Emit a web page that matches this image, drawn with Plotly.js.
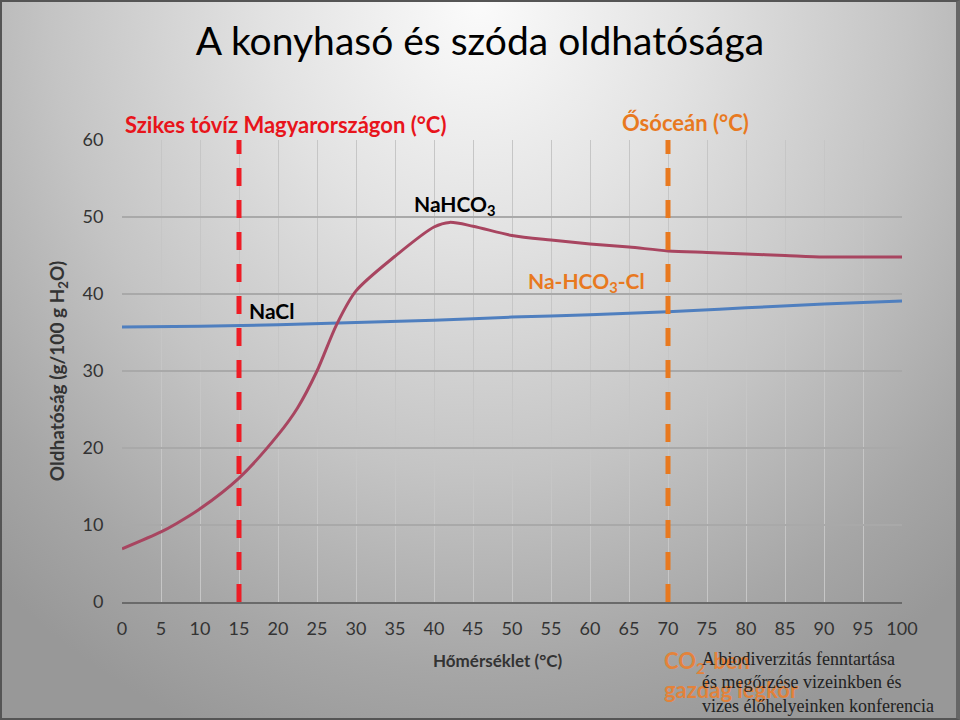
<!DOCTYPE html>
<html>
<head>
<meta charset="utf-8">
<script src="https://cdn.plot.ly/plotly-3.0.1.min.js"></script>
<style>
html,body{margin:0;padding:0;}
#wrap{width:960px;height:720px;box-sizing:border-box;border:2px solid #555;border-right:4px solid #666;
background:radial-gradient(ellipse 75% 110% at 50% 0%, #fbfbfb 0%, #e2e2e2 30%, #c4c4c4 60%, #a6a6a6 85%, #989898 100%);}
#chart{width:956px;height:716px;}
</style>
</head>
<body>
<div id="wrap"><div id="chart"></div></div>
<script>
// Temperatures (°C)
const temps = [0, 5, 7, 10, 15, 20, 22.5, 25, 27.5, 30, 35, 40, 42, 45, 50, 55, 60, 65, 70, 75, 80, 85, 90, 95, 100];
// NaHCO3 solubility (g/100 g H2O), as drawn
const nahco3 = [6.9, 9.1, 10.2, 12.1, 16.1, 21.7, 25.2, 30.0, 36.0, 40.4, 44.9, 48.7, 49.3, 48.8, 47.6, 47.0, 46.5, 46.1, 45.6, 45.4, 45.2, 45.0, 44.8, 44.8, 44.8];
// NaCl temperatures and solubility
const naclTemps = [0, 10, 20, 30, 40, 50, 60, 70, 80, 90, 100];
const nacl = [35.7, 35.8, 36.0, 36.3, 36.6, 37.0, 37.3, 37.7, 38.2, 38.7, 39.1];
// marker temperatures
const markerTemps = [15, 70];
const markerColors = ['#ee1c25', '#e8791f'];
const xTicks = [0,5,10,15,20,25,30,35,40,45,50,55,60,65,70,75,80,85,90,95,100];
const yTicks = [0,10,20,30,40,50,60];

const font = 'Lato, "Open Sans", sans-serif';

const traces = [
  {x: naclTemps, y: nacl, mode: 'lines', line: {color: '#4f7fbf', width: 3, shape: 'spline'}, hoverinfo: 'skip'},
  {x: temps, y: nahco3, mode: 'lines', line: {color: '#a84560', width: 3, shape: 'spline', smoothing: 0.8}, hoverinfo: 'skip'}
];

const shapes = markerTemps.map((t, i) => ({
  type: 'line', xref: 'x', yref: 'y', x0: t, x1: t, y0: 0, y1: 60,
  line: {color: markerColors[i], width: 5, dash: '18px,14px'}
}));

const px = p => (p - 122) / 780;
const py = p => (602 - p) / 462;

const annotations = [
  {x: px(285), y: py(125), xref: 'paper', yref: 'paper', xanchor: 'center', yanchor: 'middle',
   text: '<b>Szikes tóvíz Magyarországon (°C)</b>', showarrow: false,
   font: {family: font, size: 22, color: '#e8141b'}},
  {x: px(685), y: py(122), xref: 'paper', yref: 'paper', xanchor: 'center', yanchor: 'middle',
   text: '<b>Ősóceán (°C)</b>', showarrow: false,
   font: {family: font, size: 22, color: '#e8791f'}},
  {x: 42.7, y: 51.6, xref: 'x', yref: 'y', text: '<b>NaHCO<sub>3</sub></b>', showarrow: false,
   font: {family: font, size: 21, color: '#000'}},
  {x: 19.2, y: 37.9, xref: 'x', yref: 'y', text: '<b>NaCl</b>', showarrow: false,
   font: {family: font, size: 21, color: '#000'}},
  {x: 59.6, y: 41.6, xref: 'x', yref: 'y', text: '<b>Na-HCO<sub>3</sub>-Cl</b>', showarrow: false,
   font: {family: font, size: 21, color: '#e8791f'}},
  {x: px(498), y: py(660), xref: 'paper', yref: 'paper', xanchor: 'center', yanchor: 'middle',
   text: '<b>Hőmérséklet (°C)</b>', showarrow: false,
   font: {family: font, size: 17, color: '#333'}},
  {x: px(662), y: py(645), xref: 'paper', yref: 'paper', xanchor: 'left', yanchor: 'top', align: 'left',
   text: '<b>CO<sub>2</sub>-ben<br>gazdag légkör</b>', showarrow: false,
   font: {family: font, size: 22, color: 'rgba(240,125,40,0.85)'}},
  {x: px(700), y: py(647), xref: 'paper', yref: 'paper', xanchor: 'left', yanchor: 'top', align: 'left',
   text: 'A biodiverzitás fenntartása<br>és megőrzése vizeinkben és<br>vizes élőhelyeinken konferencia', showarrow: false,
   font: {family: '"Liberation Serif", "Times New Roman", serif', size: 18, color: '#222'}}
];

const layout = {
  width: 956, height: 716,
  margin: {l: 120, r: 56, t: 138, b: 116},
  paper_bgcolor: 'rgba(0,0,0,0)',
  plot_bgcolor: 'rgba(0,0,0,0)',
  showlegend: false,
  title: {text: 'A konyhasó és szóda oldhatósága', x: 0.5, xanchor: 'center', y: 0.945, yanchor: 'middle',
          font: {family: font, size: 39, color: '#000'}},
  xaxis: {range: [0, 100], tickvals: xTicks, ticktext: xTicks.map(String), showgrid: true,
          gridcolor: '#c6c6c6', gridwidth: 1, zeroline: false, showline: true, linecolor: '#6a6a6a', linewidth: 1.5,
          ticks: 'outside', ticklen: 10, tickcolor: 'rgba(0,0,0,0)',
          tickfont: {family: font, size: 18, color: '#333'}},
  yaxis: {range: [0, 60], tickvals: yTicks, ticktext: yTicks.map(String), showgrid: true,
          gridcolor: '#a9a9a9', gridwidth: 1.5, zeroline: false, showline: false,
          ticks: 'outside', ticklen: 14, tickcolor: 'rgba(0,0,0,0)',
          tickfont: {family: font, size: 18, color: '#333'},
          title: {text: '<b>Oldhatóság (g/100 g H<sub>2</sub>O)</b>', standoff: 12, font: {family: font, size: 19, color: '#333'}}},
  shapes: shapes,
  annotations: annotations
};

Plotly.newPlot('chart', traces, layout, {displayModeBar: false, staticPlot: true});
</script>
</body>
</html>
